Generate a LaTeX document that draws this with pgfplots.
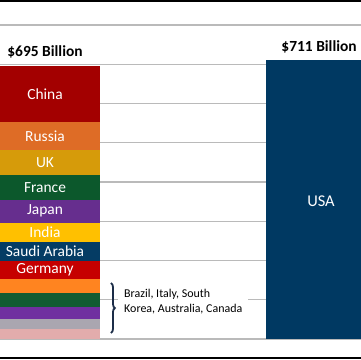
\documentclass[border=0pt]{standalone}
\usepackage{pgfplots}
\pgfplotsset{compat=1.18}
\usepackage{fontspec}
\setmainfont{Carlito}
\usetikzlibrary{decorations.pathreplacing}
\definecolor{cChina}{RGB}{163,0,0}
\definecolor{cRussia}{RGB}{222,108,38}
\definecolor{cUK}{RGB}{214,155,10}
\definecolor{cFrance}{RGB}{12,88,44}
\definecolor{cJapan}{RGB}{102,46,142}
\definecolor{cIndia}{RGB}{255,192,0}
\definecolor{cSaudi}{RGB}{5,60,100}
\definecolor{cGermany}{RGB}{198,0,0}
\definecolor{cBrazil}{RGB}{255,132,32}
\definecolor{cItaly}{RGB}{18,92,50}
\definecolor{cKorea}{RGB}{112,48,160}
\definecolor{cAustralia}{RGB}{170,166,176}
\definecolor{cCanada}{RGB}{226,172,172}
\definecolor{cUSA}{RGB}{0,57,98}
\definecolor{cBrace}{RGB}{28,45,72}
\tikzset{barlabel/.style={text=white, font=\fontsize{15.5}{18}\selectfont}}
\begin{document}
\begin{tikzpicture}
\begin{axis}[
  at={(0bp,2bp)}, anchor=south west,
  scale only axis, width=361bp, height=357bp,
  xmin=-0.16304, xmax=1.14493,
  ymin=-48.4, ymax=861.4,
  ybar stacked, bar width=110bp,
  axis line style={draw=none},
  xtick=\empty, ytick={0,100,...,800}, yticklabels={},
  major tick length=0pt,
  ymajorgrids, grid style={draw=black!27, line width=1.2bp},
]
\addplot[fill=cUSA, draw=none] coordinates {(0,0) (1,711)};
\addplot[fill=cCanada, draw=none] coordinates {(0,24.7) (1,0)};
\addplot[fill=cAustralia, draw=none] coordinates {(0,26.7) (1,0)};
\addplot[fill=cKorea, draw=none] coordinates {(0,30.8) (1,0)};
\addplot[fill=cItaly, draw=none] coordinates {(0,34.5) (1,0)};
\addplot[fill=cBrazil, draw=none] coordinates {(0,35.4) (1,0)};
\addplot[fill=cGermany, draw=none] coordinates {(0,46.7) (1,0)};
\addplot[fill=cSaudi, draw=none] coordinates {(0,48.5) (1,0)};
\addplot[fill=cIndia, draw=none] coordinates {(0,48.9) (1,0)};
\addplot[fill=cJapan, draw=none] coordinates {(0,59.3) (1,0)};
\addplot[fill=cFrance, draw=none] coordinates {(0,62.5) (1,0)};
\addplot[fill=cUK, draw=none] coordinates {(0,62.7) (1,0)};
\addplot[fill=cRussia, draw=none] coordinates {(0,71.9) (1,0)};
\addplot[fill=cChina, draw=none] coordinates {(0,143) (1,0)};
\coordinate (pChina) at (axis cs:0,624);
\coordinate (pRussia) at (axis cs:0,516.6);
\coordinate (pUK) at (axis cs:0,449.3);
\coordinate (pFrance) at (axis cs:0,386.7);
\coordinate (pJapan) at (axis cs:0,325.8);
\coordinate (pIndia) at (axis cs:0,271.7);
\coordinate (pSaudi) at (axis cs:0,223);
\coordinate (pGermany) at (axis cs:0,175.4);
\coordinate (pUSA) at (axis cs:1,352);
\coordinate (pT1) at (axis cs:0,732);
\coordinate (pT2) at (axis cs:0.993,745);
\coordinate (pTxt) at (axis cs:0.2645,95.5);
\coordinate (pB1) at (axis cs:0.239,142.7);
\coordinate (pB2) at (axis cs:0.239,15.3);
\end{axis}
\node[barlabel] at (pChina) {China};
\node[barlabel] at (pRussia) {Russia};
\node[barlabel] at (pUK) {UK};
\node[barlabel] at (pFrance) {France};
\node[barlabel] at (pJapan) {Japan};
\node[barlabel] at (pIndia) {India};
\node[barlabel] at (pSaudi) {Saudi Arabia};
\node[barlabel] at (pGermany) {Germany};
\node[text=white, font=\fontsize{16.5}{19}\selectfont] at (pUSA) {USA};
\node[font=\bfseries\fontsize{15.5}{18}\selectfont] at (pT1) {\$695 Billion};
\node[font=\bfseries\fontsize{15.5}{18}\selectfont] at (pT2) {\$711 Billion};
\node[anchor=west, fill=white, inner xsep=6bp, inner ysep=2bp, align=left,
      font=\fontsize{12}{14.6}\selectfont] at (pTxt)
      {Brazil, Italy, South\\Korea, Australia, Canada};
\draw[decorate, decoration={brace, amplitude=4bp}, line width=1.8bp, draw=cBrace]
  (pB1) -- (pB2);
\draw[line width=2bp, black] (0bp,359bp) -- (361bp,359bp);
\draw[line width=2bp, black] (0bp,2bp) -- (361bp,2bp);
\pgfresetboundingbox
\path (0bp,0bp) rectangle (361bp,360bp);
\end{tikzpicture}
\end{document}
